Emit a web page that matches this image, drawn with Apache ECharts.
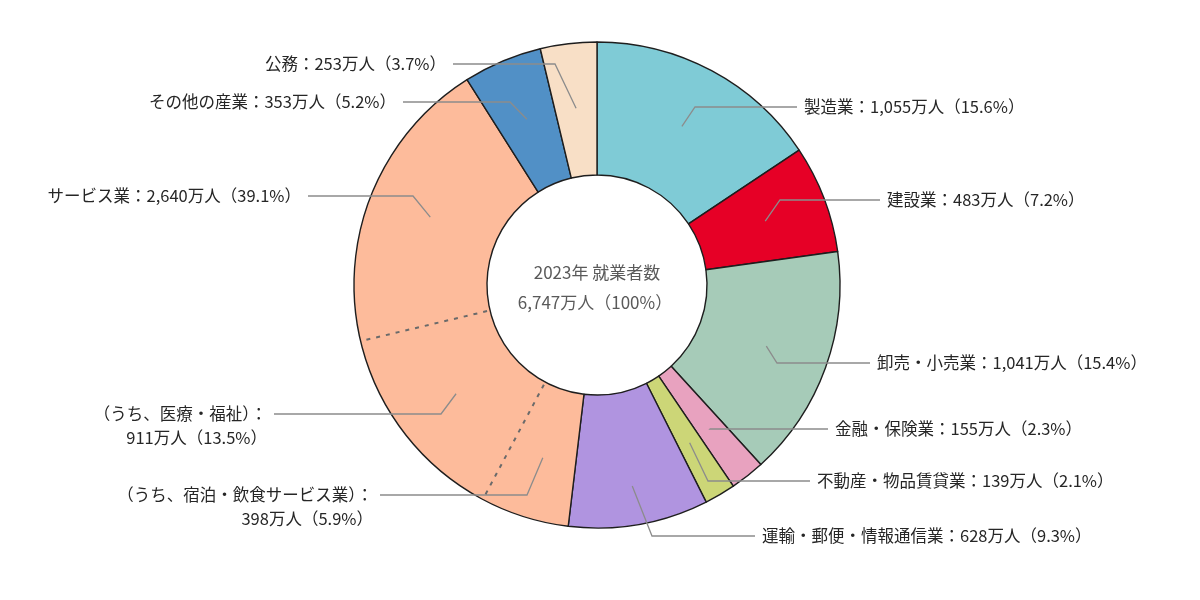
<!DOCTYPE html>
<html>
<head>
<meta charset="utf-8">
<script src="https://cdn.jsdelivr.net/npm/echarts@6/dist/echarts.min.js"></script>
<style>
html,body{margin:0;padding:0;background:#fff;}
#chart{width:1200px;height:600px;}
</style>
</head>
<body>
<div id="chart"></div>
<script>
// ---- data ----
const year = 2023;
const totalWorkers = 6747;
const categories = ['製造業','建設業','卸売・小売業','金融・保険業','不動産・物品賃貸業','運輸・郵便・情報通信業','サービス業','その他の産業','公務'];
const workers = [1055, 483, 1041, 155, 139, 628, 2640, 353, 253];
const shares = [15.6, 7.2, 15.4, 2.3, 2.1, 9.3, 39.1, 5.2, 3.7];
const serviceSubNames = ['（うち、宿泊・飲食サービス業）', '（うち、医療・福祉）'];
const serviceSubWorkers = [398, 911];
const serviceSubShares = [5.9, 13.5];
const colors = ['#7fcbd6','#e60026','#a6cbb8','#e8a2bf','#ccd677','#b094e0','#fdbb9b','#5190c6','#f8dfc6'];

// ---- layout (positions only) ----
const CX = 597, CY = 285, R_IN = 110, R_OUT = 243;
// per label: [lineY, lineEndX, bendX, startRadius]
const labelLayoutSpec = [
  [107, 797, 695, 180],
  [200, 880, 780, 180],
  [363, 870, 777, 180],
  [429, 828, 710, 183],
  [481, 810, 708, 183],
  [536, 755, 652, 204],
  [495, 380, 527, 181],
  [414, 274, 441, 178],
  [196, 308, 413, 180],
  [102, 403, 510, 180],
  [64, 453, 555, 178]
];

const fmt = v => v.toLocaleString('en-US');
const FONT = '"Noto Sans CJK JP", "Noto Sans", sans-serif';

// main ring data
const ringData = categories.map((c, i) => ({ name: c, value: workers[i], itemStyle: { color: colors[i] } }));

// label data: service split into sub-parts
const svcIdx = 6;
const svcRest = workers[svcIdx] - serviceSubWorkers.reduce((a, b) => a + b, 0);
const labelItems = [];
for (let i = 0; i < svcIdx; i++) {
  labelItems.push({ value: workers[i], text: `${categories[i]}：${fmt(workers[i])}万人（${shares[i]}%）`, multi: false });
}
serviceSubNames.forEach((n, k) => {
  labelItems.push({ value: serviceSubWorkers[k], text: `${n}：\n${fmt(serviceSubWorkers[k])}万人（${serviceSubShares[k]}%）`, multi: true });
});
labelItems.push({ value: svcRest, text: `${categories[svcIdx]}：${fmt(workers[svcIdx])}万人（${shares[svcIdx]}%）`, multi: false });
for (let i = svcIdx + 1; i < categories.length; i++) {
  labelItems.push({ value: workers[i], text: `${categories[i]}：${fmt(workers[i])}万人（${shares[i]}%）`, multi: false });
}
const labelTotal = labelItems.reduce((a, b) => a + b.value, 0);
const midAngles = [];
{
  let cum = 0;
  labelItems.forEach(it => { midAngles.push((cum + it.value / 2) / labelTotal * Math.PI * 2); cum += it.value; });
}

// boundaries of service sub-parts (dashed dividers)
const beforeSvc = workers.slice(0, svcIdx).reduce((a, b) => a + b, 0);
const div1 = beforeSvc + serviceSubWorkers[0];
const div2 = div1 + serviceSubWorkers[1];

const chart = echarts.init(document.getElementById('chart'), null, { renderer: 'canvas' });
chart.setOption({
  animation: false,
  backgroundColor: '#ffffff',
  polar: { center: [CX, CY], radius: R_OUT },
  angleAxis: { type: 'value', min: 0, max: totalWorkers, startAngle: 90, clockwise: true, show: false },
  radiusAxis: { type: 'value', min: 0, max: R_OUT, show: false },
  graphic: [
    { type: 'text', x: CX, y: 273, z: 10, style: { text: `${year}年 就業者数`, align: 'center', verticalAlign: 'middle', font: `17px ${FONT}`, fill: '#5a5a5a' } },
    { type: 'text', x: CX - 2, y: 303, z: 10, style: { text: `${fmt(totalWorkers)}万人（100%）`, align: 'center', verticalAlign: 'middle', font: `17px ${FONT}`, fill: '#5a5a5a' } }
  ],
  series: [
    {
      type: 'pie',
      center: [CX, CY],
      radius: [R_IN, R_OUT],
      startAngle: 90,
      clockwise: true,
      silent: true,
      label: { show: false },
      labelLine: { show: false },
      itemStyle: { borderColor: '#1e1e1e', borderWidth: 1.4 },
      data: ringData,
      z: 2
    },
    {
      type: 'pie',
      center: [CX, CY],
      radius: [0, 180],
      startAngle: 90,
      clockwise: true,
      silent: true,
      avoidLabelOverlap: false,
      itemStyle: { color: 'rgba(0,0,0,0)', borderWidth: 0 },
      label: {
        show: true,
        position: 'outside',
        color: '#262626',
        fontSize: 16.5,
        lineHeight: 24,
        fontFamily: FONT,
        formatter: p => labelItems[p.dataIndex].text
      },
      labelLine: { show: true, length: 10, length2: 10, lineStyle: { color: '#8c8c8c', width: 1.3 } },
      labelLayout: function (params) {
        const i = params.dataIndex;
        const [ly, ex, bx, sr] = labelLayoutSpec[i];
        const a = midAngles[i];
        const start = [CX + sr * Math.sin(a), CY - sr * Math.cos(a)];
        const right = start[0] > CX;
        const multi = labelItems[i].multi;
        return {
          x: right ? ex + 7 : ex - 7,
          y: multi ? ly - 12 : ly,
          align: right ? 'left' : 'right',
          verticalAlign: multi ? 'top' : 'middle',
          labelLinePoints: [start, [bx, ly], [ex, ly]]
        };
      },
      data: labelItems.map(it => ({ value: it.value })),
      z: 4
    },
    {
      type: 'line',
      coordinateSystem: 'polar',
      symbol: 'none',
      silent: true,
      z: 5,
      lineStyle: { color: '#6a6a6a', width: 2, type: [4, 6] },
      data: [[R_IN + 3, div1], [R_OUT - 3, div1]]
    },
    {
      type: 'line',
      coordinateSystem: 'polar',
      symbol: 'none',
      silent: true,
      z: 5,
      lineStyle: { color: '#6a6a6a', width: 2, type: [4, 6] },
      data: [[R_IN + 3, div2], [R_OUT - 3, div2]]
    }
  ]
});
</script>
</body>
</html>
